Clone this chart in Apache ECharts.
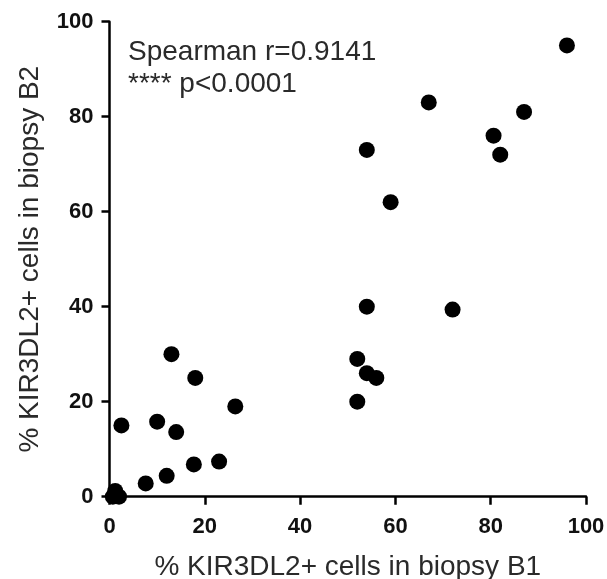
<!DOCTYPE html>
<html>
<head>
<meta charset="utf-8">
<script src="https://cdn.jsdelivr.net/npm/echarts@6/dist/echarts.min.js"></script>
<style>
html,body{margin:0;padding:0;background:#fff;}
#chart{width:607px;height:579px;}
</style>
</head>
<body>
<div id="chart"></div>
<script>
// Data: % KIR3DL2+ cells in biopsy B1 (x) vs biopsy B2 (y)
var xB1 = [96, 67, 87, 80.6, 82, 54, 59, 54, 72, 52, 54, 56, 52, 13, 18, 26.4, 2.5, 10, 14, 17.7, 23, 12, 7.6, 1.2, 0.7, 2];
var yB2 = [95, 83, 81, 76, 72, 73, 62, 40, 39.4, 29, 26, 25, 20, 30, 25, 19, 15, 15.8, 13.6, 6.8, 7.4, 4.4, 2.8, 1.2, 0, 0];
var xTicks = [0, 20, 40, 60, 80, 100];
var yTicks = [0, 20, 40, 60, 80, 100];
var xTitle = '% KIR3DL2+ cells in biopsy B1';
var yTitle = '% KIR3DL2+ cells in biopsy B2';
var statLines = ['Spearman r=0.9141', '**** p<0.0001'];

var points = xB1.map(function (x, i) { return [x, yB2[i]]; });

var chart = echarts.init(document.getElementById('chart'), null, {renderer: 'canvas'});
var axisCommon = {
  type: 'value',
  min: 0,
  max: 100,
  interval: 20,
  nameLocation: 'middle',
  nameTextStyle: {fontFamily: 'Liberation Sans', fontSize: 28, color: '#2a2a2a'},
  axisLine: {show: true, onZero: false, lineStyle: {color: '#000', width: 2.5}},
  axisTick: {show: true, inside: false, length: 8, lineStyle: {color: '#000', width: 2.5}},
  splitLine: {show: false},
  axisLabel: {fontFamily: 'Liberation Sans', fontWeight: 'bold', fontSize: 22, color: '#111'}
};
chart.setOption({
  animation: false,
  backgroundColor: '#fff',
  grid: {left: 109.5, right: 21, top: 21.7, bottom: 82.3, containLabel: false, outerBoundsMode: 'none'},
  xAxis: Object.assign({}, axisCommon, {
    name: xTitle,
    nameGap: 57,
    axisLabel: Object.assign({}, axisCommon.axisLabel, {margin: 19,
      formatter: function (v) { return xTicks.indexOf(v) >= 0 ? String(v) : ''; }})
  }),
  yAxis: Object.assign({}, axisCommon, {
    name: yTitle,
    nameGap: 65,
    nameRotate: 90,
    axisLabel: Object.assign({}, axisCommon.axisLabel, {margin: 16,
      formatter: function (v) { return yTicks.indexOf(v) >= 0 ? String(v) : ''; }})
  }),
  graphic: [{
    type: 'text',
    left: 128,
    top: 36,
    style: {
      text: statLines.join('\n'),
      font: '28px "Liberation Sans"',
      lineHeight: 32,
      fill: '#2a2a2a'
    }
  }],
  series: [{
    type: 'scatter',
    data: points,
    symbol: 'circle',
    symbolSize: 16,
    clip: false,
    itemStyle: {color: '#000', opacity: 1}
  }]
});
</script>
</body>
</html>
